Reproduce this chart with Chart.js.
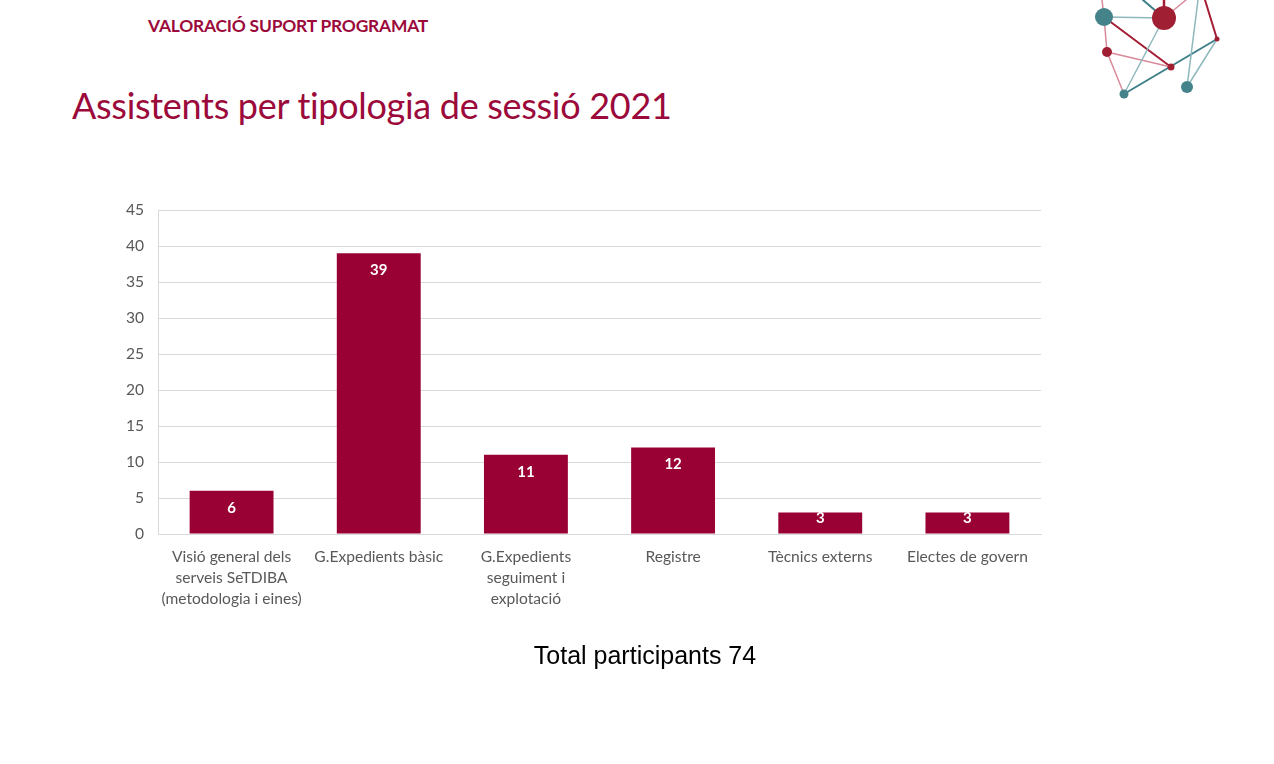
<!DOCTYPE html>
<html>
<head>
<meta charset="utf-8">
<script src="https://cdn.jsdelivr.net/npm/chart.js@4"></script>
<style>
  html, body { margin: 0; padding: 0; background: #fff; }
  body { width: 1274px; height: 764px; position: relative; overflow: hidden; font-family: Lato, "Open Sans", sans-serif; }
  #header { position: absolute; left: 148px; top: 15px; font-size: 17.4px; font-weight: bold; color: #9b0a3a; letter-spacing: -0.2px; }
  #title { position: absolute; left: 72px; top: 83px; font-size: 36px; color: #9b0a3a; letter-spacing: -0.3px; }
  #total { position: absolute; left: 0; width: 1290px; top: 641px; text-align: center; font-family: "Liberation Sans", Arial, sans-serif; font-size: 25px; color: #000; }
  #logo { position: absolute; left: 1080px; top: 0; }
  #wrap { position: absolute; left: 0; top: 0; width: 1274px; height: 764px; }
</style>
</head>
<body>
<div id="header">VALORACIÓ SUPORT PROGRAMAT</div>
<div id="title">Assistents per tipologia de sessió 2021</div>

<!-- decorative network logo -->
<svg id="logo" width="160" height="110" viewBox="1080 0 160 110">
  <g fill="none" stroke-linecap="round">
    <line x1="1102" y1="0" x2="1104" y2="17" stroke="#d98a99" stroke-width="1.5"/>
    <line x1="1143" y1="0" x2="1164" y2="18" stroke="#3f8088" stroke-width="2"/>
    <line x1="1164" y1="0" x2="1164" y2="18" stroke="#a31d35" stroke-width="2.5"/>
    <line x1="1186" y1="0" x2="1164" y2="18" stroke="#d98a99" stroke-width="1.5"/>
    <line x1="1104" y1="17" x2="1164" y2="18" stroke="#8fb8bd" stroke-width="1.5"/>
    <line x1="1104" y1="17" x2="1171" y2="67" stroke="#a31d35" stroke-width="2"/>
    <line x1="1104" y1="17" x2="1107" y2="52" stroke="#d98a99" stroke-width="1.5"/>
    <line x1="1107" y1="52" x2="1171" y2="67" stroke="#d98a99" stroke-width="1.5"/>
    <line x1="1107" y1="52" x2="1124" y2="94" stroke="#d98a99" stroke-width="1.5"/>
    <line x1="1124" y1="94" x2="1164" y2="18" stroke="#8fb8bd" stroke-width="1.5"/>
    <line x1="1124" y1="94" x2="1217" y2="39" stroke="#3f8088" stroke-width="2"/>
    <line x1="1217" y1="39" x2="1187" y2="87" stroke="#8fb8bd" stroke-width="1.5"/>
    <line x1="1187" y1="87" x2="1198" y2="0" stroke="#8fb8bd" stroke-width="1.5"/>
    <line x1="1217" y1="39" x2="1205" y2="0" stroke="#a31d35" stroke-width="2"/>
  </g>
  <circle cx="1104" cy="17" r="9" fill="#45838b"/>
  <circle cx="1164" cy="18" r="12" fill="#a11f33"/>
  <circle cx="1107" cy="52" r="5" fill="#a11f33"/>
  <circle cx="1171" cy="67" r="3.5" fill="#a11f33"/>
  <circle cx="1217" cy="39" r="2.5" fill="#a11f33"/>
  <circle cx="1124" cy="94" r="4.5" fill="#45838b"/>
  <circle cx="1187" cy="87" r="6" fill="#45838b"/>
</svg>

<div id="wrap"><canvas id="myChart"></canvas></div>
<div id="total">Total participants 74</div>

<script>
// categories (x-axis labels, split into lines)
const categories = [
  ["Visió general dels", "serveis SeTDIBA", "(metodologia i eines)"],
  "G.Expedients bàsic",
  ["G.Expedients", "seguiment i", "explotació"],
  "Registre",
  "Tècnics externs",
  "Electes de govern"
];
// attendees per session type
const attendees = [6, 39, 11, 12, 3, 3];
// y-axis ticks
const yMax = 45;
const yStep = 5;

// white value labels near the top of each bar
const valueLabels = {
  id: "valueLabels",
  afterDatasetsDraw(chart) {
    const ctx = chart.ctx;
    const meta = chart.getDatasetMeta(0);
    ctx.save();
    ctx.fillStyle = "#ffffff";
    ctx.font = "bold 15px Lato, 'Open Sans', sans-serif";
    ctx.textAlign = "center";
    ctx.textBaseline = "middle";
    meta.data.forEach((bar, i) => {
      let y = Math.min(bar.y + 17, bar.base - 15);
      ctx.fillText(String(attendees[i]), bar.x, y);
    });
    ctx.restore();
  }
};

let ctx = document.getElementById("myChart").getContext("2d");
let myChart = new Chart(ctx, {
  type: "bar",
  data: {
    labels: categories,
    datasets: [
      {
        label: "Assistents",
        data: attendees,
        backgroundColor: "#990033",
        categoryPercentage: 1,
        barPercentage: 0.57,
      },
    ],
  },
  options: {
    responsive: true,
    maintainAspectRatio: false,
    animation: false,
    layout: {
      padding: { left: 100, top: 210, right: 233, bottom: 150 },
    },
    plugins: {
      legend: { display: false },
      tooltip: { enabled: false },
    },
    scales: {
      x: {
        grid: { display: false },
        border: { display: true, color: "#d9d9d9", width: 1 },
        ticks: {
          color: "#595959",
          font: { family: "Lato, 'Open Sans', sans-serif", size: 15.6, lineHeight: 1.35 },
          padding: 4,
          maxRotation: 0,
          autoSkip: false,
        },
        afterFit: (scale) => { scale.height = 80; },
      },
      y: {
        min: 0,
        max: yMax,
        grid: { color: "#d9d9d9", drawTicks: false },
        border: { display: true, color: "#d9d9d9", width: 1 },
        ticks: {
          stepSize: yStep,
          color: "#595959",
          font: { family: "Lato, 'Open Sans', sans-serif", size: 15.6 },
          padding: 14,
        },
        afterFit: (scale) => { scale.width = 58; },
      },
    },
  },
  plugins: [valueLabels],
});
</script>
</body>
</html>
